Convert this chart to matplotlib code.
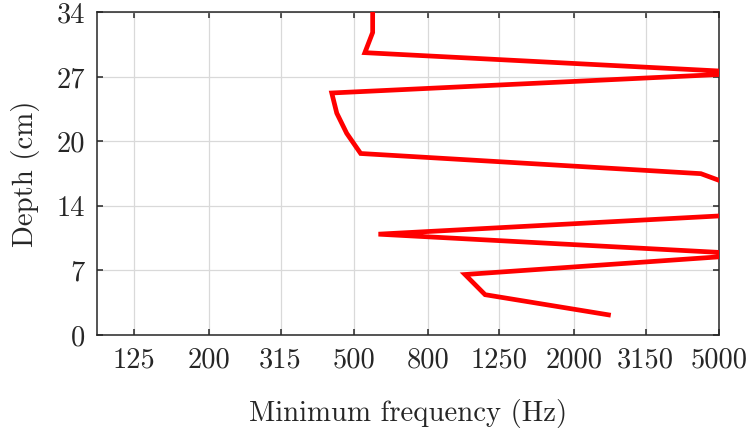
import matplotlib
matplotlib.use('Agg')
import matplotlib.pyplot as plt
import numpy as np

# depth profile (cm) and minimum frequency (Hz)
depth = [34.0, 31.875, 29.75, 27.625, 25.5, 23.375, 21.25, 19.125, 17.0,
         14.875, 12.75, 10.625, 8.5, 6.375, 4.25, 2.125]
min_freq = [563, 563, 536, 6250, 435, 449, 478, 522, 4460,
            6300, 6300, 584, 6280, 1008, 1144, 2490]

xtick_vals = [125, 200, 315, 500, 800, 1250, 2000, 3150, 5000]
xtick_labels = ['125', '200', '315', '500', '800', '1250', '2000', '3150', '5000']
ytick_vals = np.linspace(0, 34, 6)
ytick_labels = ['0', '7', '14', '20', '27', '34']

plt.rcParams['font.family'] = 'cmr10'
plt.rcParams['axes.formatter.use_mathtext'] = True

fig = plt.figure(figsize=(7.51, 4.32), dpi=100)
ax = fig.add_axes([0.1298, 0.2245, 0.8276, 0.7470])

ax.plot(min_freq, depth, color='#ff0000', linewidth=3.4, solid_joinstyle='miter', zorder=3)

ax.set_xscale('log')
ax.set_xlim(99.3, 5000)
ax.set_ylim(0, 34)
ax.set_xticks(xtick_vals)
ax.set_xticklabels(xtick_labels)
ax.minorticks_off()
ax.set_yticks(ytick_vals)
ax.set_yticklabels(ytick_labels)

ax.grid(True, color='#d9d9d9', linewidth=0.9)
ax.set_axisbelow(True)
for s in ax.spines.values():
    s.set_color('#262626')
    s.set_linewidth(1.1)
ax.tick_params(direction='in', length=4.5, width=1.1, color='#262626',
               top=True, right=True, labelsize=20.5, labelcolor='#262626', pad=9)

ax.set_xlabel('Minimum frequency (Hz)', fontsize=20.7, color='#262626', labelpad=18)
ax.set_ylabel('Depth (cm)', fontsize=20.7, color='#262626', labelpad=12)

fig.savefig('out.png', dpi=100)
